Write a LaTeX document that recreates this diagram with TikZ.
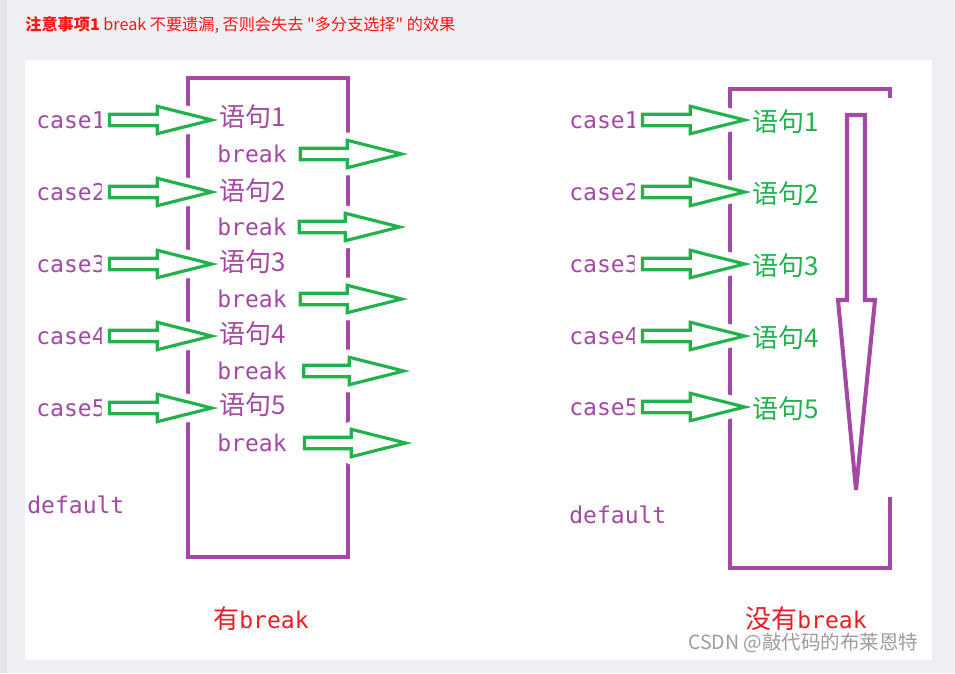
\documentclass[tikz,border=0pt]{standalone}
\usepackage{fontspec}
\setmainfont{DejaVu Sans}
\setmonofont{DejaVu Sans Mono}
\newfontfamily\cjk{Noto Sans CJK SC}
\usetikzlibrary{calc}
\definecolor{boxPurple}{HTML}{A349A4}
\definecolor{arrowGreen}{HTML}{22B14C}
\definecolor{labelRed}{HTML}{ED1C24}
\definecolor{titleRed}{HTML}{FF1515}
\definecolor{pageGray}{HTML}{EEEFF2}
\definecolor{stripGray}{HTML}{E2E4E9}
\definecolor{markGray}{HTML}{9C9C9C}
\newcommand\zh[1]{{\cjk\fontsize{14.8}{17}\selectfont #1}}
\tikzset{
  caseText/.style={boxPurple,font=\ttfamily\fontsize{13.1}{15}\selectfont,anchor=west,inner sep=0pt},
  stmtText/.style={font=\cjk\fontsize{14.8}{17}\selectfont,anchor=west,inner xsep=1pt,inner ysep=0pt},
  nameText/.style={labelRed,font=\ttfamily\fontsize{13.1}{15}\selectfont,anchor=west,inner sep=0pt},
  boxLine/.style={boxPurple,line width=2.3pt},
  hollowArrow/.style={draw=arrowGreen,line width=1.8pt,fill=white,line join=miter,
    preaction={draw=white,fill=white,line width=9pt,line join=round}}
}
\newcommand\hollowarrow[3][2pt]{%
  \draw[hollowArrow] let \p1=(#2), \p2=(#3) in
    (\x1+#1,\y1+3.3pt) -- (\x2-34pt,\y1+3.3pt) -- (\x2-34pt,\y1+7.8pt)
    -- (\x2-3pt,\y1) -- (\x2-34pt,\y1-7.8pt) -- (\x2-34pt,\y1-3.3pt)
    -- (\x1+#1,\y1-3.3pt) -- cycle;}
\begin{document}
\begin{tikzpicture}[x=0.02cm,y=-0.02cm]
\useasboundingbox (0,0) rectangle (955,673);
\fill[pageGray] (0,0) rectangle (955,673);
\fill[stripGray] (0,0) rectangle (7,673);
\fill[white] (25,60) rectangle (932,660);
\node[titleRed,anchor=west,inner sep=0pt,font=\cjk\fontsize{9.2}{11}\selectfont] (title) at (25,25)
  {\textbf{注意事项1} break 不要遗漏, 否则会失去 "多分支选择" 的效果};

% left: with break
\draw[boxLine] (188,78) rectangle (348,557);
\node[caseText] (lc1) at (36,120) {case1};
\node[caseText] (lc2) at (36,192) {case2};
\node[caseText] (lc3) at (36,264) {case3};
\node[caseText] (lc4) at (36,336) {case4};
\node[caseText] (lc5) at (36,408) {case5};
\node[caseText] (ld) at (27,505) {default};
\node[stmtText,boxPurple] (ls1) at (217,117) {语句1};
\node[stmtText,boxPurple] (ls2) at (217,191) {语句2};
\node[stmtText,boxPurple] (ls3) at (217,262) {语句3};
\node[stmtText,boxPurple] (ls4) at (217,334) {语句4};
\node[stmtText,boxPurple] (ls5) at (217,405) {语句5};
\node[caseText] (lb1) at (217,154) {break};
\node[caseText] (lb2) at (217,227) {break};
\node[caseText] (lb3) at (217,299) {break};
\node[caseText] (lb4) at (217,371) {break};
\node[caseText] (lb5) at (217,443) {break};
\coordinate (lt1) at (407,154);
\coordinate (lt2) at (405,227);
\coordinate (lt3) at (407,299);
\coordinate (lt4) at (409,371);
\coordinate (lt5) at (411,443);
\hollowarrow{lc1.east}{ls1.west}
\hollowarrow{lc2.east}{ls2.west}
\hollowarrow{lc3.east}{ls3.west}
\hollowarrow{lc4.east}{ls4.west}
\hollowarrow{lc5.east}{ls5.west}
\hollowarrow[7.5pt]{lb1.east}{lt1}
\hollowarrow[7pt]{lb2.east}{lt2}
\hollowarrow[7.5pt]{lb3.east}{lt3}
\hollowarrow[9.5pt]{lb4.east}{lt4}
\hollowarrow[10pt]{lb5.east}{lt5}
\node[nameText] (lname) at (213,619) {\zh{有}break};

% right: without break
\draw[boxLine] (890,98) -- (890,89) -- (730,89) -- (730,568) -- (890,568) -- (890,497);
\draw[boxLine] (847,115) -- (865,115) -- (865,300) -- (875,300) -- (856,490)
  -- (838,300) -- (847,300) -- cycle;
\node[caseText] (rc1) at (569,120) {case1};
\node[caseText] (rc2) at (569,192) {case2};
\node[caseText] (rc3) at (569,264) {case3};
\node[caseText] (rc4) at (569,336) {case4};
\node[caseText] (rc5) at (569,407) {case5};
\node[caseText] (rd) at (569,515) {default};
\node[stmtText,arrowGreen] (rs1) at (750,122) {语句1};
\node[stmtText,arrowGreen] (rs2) at (750,194) {语句2};
\node[stmtText,arrowGreen] (rs3) at (750,266) {语句3};
\node[stmtText,arrowGreen] (rs4) at (750,338) {语句4};
\node[stmtText,arrowGreen] (rs5) at (750,409) {语句5};
\hollowarrow{rc1.east}{rs1.west}
\hollowarrow{rc2.east}{rs2.west}
\hollowarrow{rc3.east}{rs3.west}
\hollowarrow{rc4.east}{rs4.west}
\hollowarrow{rc5.east}{rs5.west}
\node[nameText] (rname) at (745,619) {\zh{没有}break};
\node[markGray,anchor=west,inner sep=0pt,font=\cjk\fontsize{11.1}{13}\selectfont] (mark) at (688,643)
  {CSDN @敲代码的布莱恩特};
\end{tikzpicture}
\end{document}
